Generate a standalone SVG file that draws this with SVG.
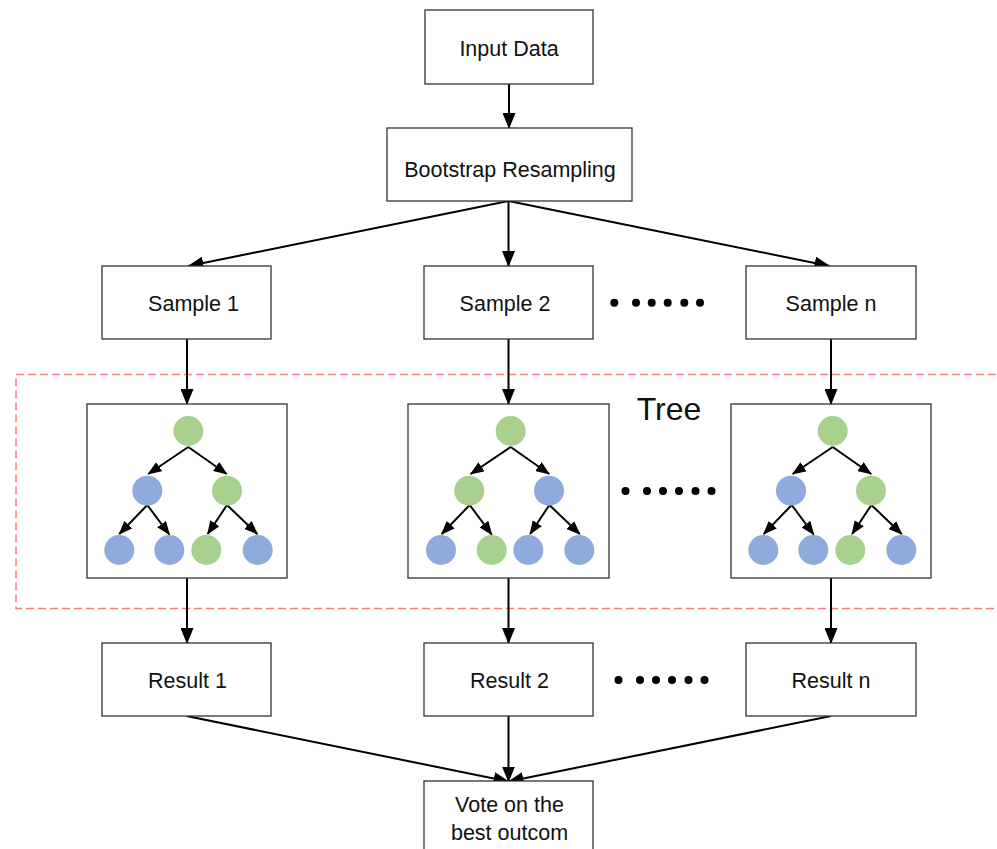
<svg xmlns="http://www.w3.org/2000/svg" width="997" height="849" viewBox="0 0 997 849">
<style>
.box{fill:#fff;stroke:#333;stroke-width:1.3}
.lbl{font-family:"Liberation Sans",Arial,sans-serif;font-size:21.5px;fill:#111;text-anchor:middle}
.con{stroke:#000;stroke-width:2;fill:none;marker-end:url(#ah)}
.tcon{stroke:#000;stroke-width:2;fill:none;marker-end:url(#ahs)}
.g{fill:#A9D18E}
.b{fill:#8FAADC}
.dot{fill:#000}
</style>
<defs>
<marker id="ah" markerUnits="userSpaceOnUse" markerWidth="16" markerHeight="13" refX="15" refY="6.5" orient="auto"><path d="M0,0 L16,6.5 L0,13 z" fill="#000"/></marker>
<marker id="ahs" markerUnits="userSpaceOnUse" markerWidth="14" markerHeight="11" refX="13" refY="5.5" orient="auto"><path d="M0,0 L14,5.5 L0,11 z" fill="#000"/></marker>
<g id="tedges">
<line class="tcon" x1="0" y1="16" x2="-40" y2="43"/>
<line class="tcon" x1="0" y1="16" x2="38.4" y2="43"/>
<line class="tcon" x1="-41" y1="74" x2="-69" y2="103"/>
<line class="tcon" x1="-41" y1="74" x2="-19" y2="103.5"/>
<line class="tcon" x1="38.7" y1="74" x2="19.4" y2="103"/>
<line class="tcon" x1="38.7" y1="74" x2="69" y2="103"/>
</g>
</defs>
<rect width="997" height="849" fill="#fff"/>

<rect id="tree-region" x="16" y="374.5" width="990" height="234" fill="none" stroke="#FF7C80" stroke-width="1.5" stroke-dasharray="8 4"/>
<text x="669" y="420" font-family="'Liberation Sans',Arial,sans-serif" font-size="32" fill="#111" text-anchor="middle">Tree</text>

<g id="connectors">
<line class="con" x1="509" y1="84" x2="509" y2="128"/>
<line class="con" x1="508.5" y1="201" x2="188.5" y2="266"/>
<line class="con" x1="508.5" y1="201" x2="508.5" y2="266"/>
<line class="con" x1="508.5" y1="201" x2="829.5" y2="266"/>
<line class="con" x1="187" y1="339" x2="187" y2="404"/>
<line class="con" x1="508.5" y1="339" x2="508.5" y2="404"/>
<line class="con" x1="831" y1="339" x2="831" y2="404"/>
<line class="con" x1="187" y1="578" x2="187" y2="643"/>
<line class="con" x1="508.5" y1="578" x2="508.5" y2="643"/>
<line class="con" x1="831" y1="578" x2="831" y2="643"/>
<line class="con" x1="186.5" y1="716" x2="508.5" y2="781.5"/>
<line class="con" x1="508.5" y1="716" x2="508.5" y2="781.5"/>
<line class="con" x1="831" y1="716" x2="508.5" y2="781.5"/>
</g>

<g id="input-data"><rect class="box" x="425" y="10" width="168" height="74"/><text class="lbl" x="509" y="56">Input Data</text></g>
<g id="bootstrap"><rect class="box" x="387" y="128" width="245" height="73"/><text class="lbl" x="510" y="176.5" font-size="22">Bootstrap Resampling</text></g>

<g id="sample-1"><rect class="box" x="102" y="266" width="169" height="73"/><text class="lbl" x="193.5" y="311">Sample 1</text></g>
<g id="sample-2"><rect class="box" x="424" y="266" width="169" height="73"/><text class="lbl" x="505" y="311">Sample 2</text></g>
<g id="sample-n"><rect class="box" x="746" y="266" width="170" height="73"/><text class="lbl" x="831" y="311">Sample n</text></g>

<g id="dots-1">
<circle class="dot" cx="614.3" cy="302.7" r="4"/><circle class="dot" cx="636" cy="302.7" r="4"/><circle class="dot" cx="651.7" cy="302.7" r="4"/><circle class="dot" cx="667.7" cy="302.7" r="4"/><circle class="dot" cx="684.3" cy="302.7" r="4"/><circle class="dot" cx="700" cy="302.7" r="4"/>
</g>

<g id="tree-1">
<rect class="box" x="87" y="404" width="200" height="174"/>
<use href="#tedges" transform="translate(188.3,431)"/>
<circle class="g" cx="188.3" cy="431" r="15"/>
<circle class="b" cx="147.3" cy="490.7" r="15"/><circle class="g" cx="227" cy="490.7" r="15"/>
<circle class="b" cx="119.3" cy="550" r="15"/><circle class="b" cx="169.3" cy="550" r="15"/><circle class="g" cx="206.3" cy="550" r="15"/><circle class="b" cx="257.7" cy="550" r="15"/>
</g>
<g id="tree-2">
<rect class="box" x="408" y="404" width="201" height="174"/>
<use href="#tedges" transform="translate(510.7,431)"/>
<circle class="g" cx="510.7" cy="431" r="15"/>
<circle class="g" cx="469.3" cy="490.7" r="15"/><circle class="b" cx="549" cy="490.7" r="15"/>
<circle class="b" cx="441" cy="550" r="15"/><circle class="g" cx="491.7" cy="550" r="15"/><circle class="b" cx="528.3" cy="550" r="15"/><circle class="b" cx="579.3" cy="550" r="15"/>
</g>
<g id="tree-n">
<rect class="box" x="731" y="404" width="200" height="174"/>
<use href="#tedges" transform="translate(832.7,431)"/>
<circle class="g" cx="832.7" cy="431" r="15"/>
<circle class="b" cx="791" cy="490.7" r="15"/><circle class="g" cx="871" cy="490.7" r="15"/>
<circle class="b" cx="763.3" cy="550" r="15"/><circle class="b" cx="813.3" cy="550" r="15"/><circle class="g" cx="850.3" cy="550" r="15"/><circle class="b" cx="901.3" cy="550" r="15"/>
</g>

<g id="dots-2">
<circle class="dot" cx="625.5" cy="491" r="4"/><circle class="dot" cx="647" cy="491" r="4"/><circle class="dot" cx="663" cy="491" r="4"/><circle class="dot" cx="679" cy="491" r="4"/><circle class="dot" cx="695.5" cy="491" r="4"/><circle class="dot" cx="711.5" cy="491" r="4"/>
</g>

<g id="result-1"><rect class="box" x="102" y="643" width="169" height="73"/><text class="lbl" x="187.5" y="688.3">Result 1</text></g>
<g id="result-2"><rect class="box" x="424" y="643" width="169" height="73"/><text class="lbl" x="509.5" y="688.3">Result 2</text></g>
<g id="result-n"><rect class="box" x="746" y="643" width="170" height="73"/><text class="lbl" x="831" y="688.3">Result n</text></g>

<g id="dots-3">
<circle class="dot" cx="618.5" cy="680" r="4"/><circle class="dot" cx="640" cy="680" r="4"/><circle class="dot" cx="656" cy="680" r="4"/><circle class="dot" cx="672" cy="680" r="4"/><circle class="dot" cx="688.5" cy="680" r="4"/><circle class="dot" cx="704.5" cy="680" r="4"/>
</g>

<g id="vote"><rect class="box" x="424" y="781" width="169" height="80"/><text class="lbl" x="509.5" y="811.5">Vote on the</text><text class="lbl" x="509.5" y="840">best outcom</text></g>
</svg>
